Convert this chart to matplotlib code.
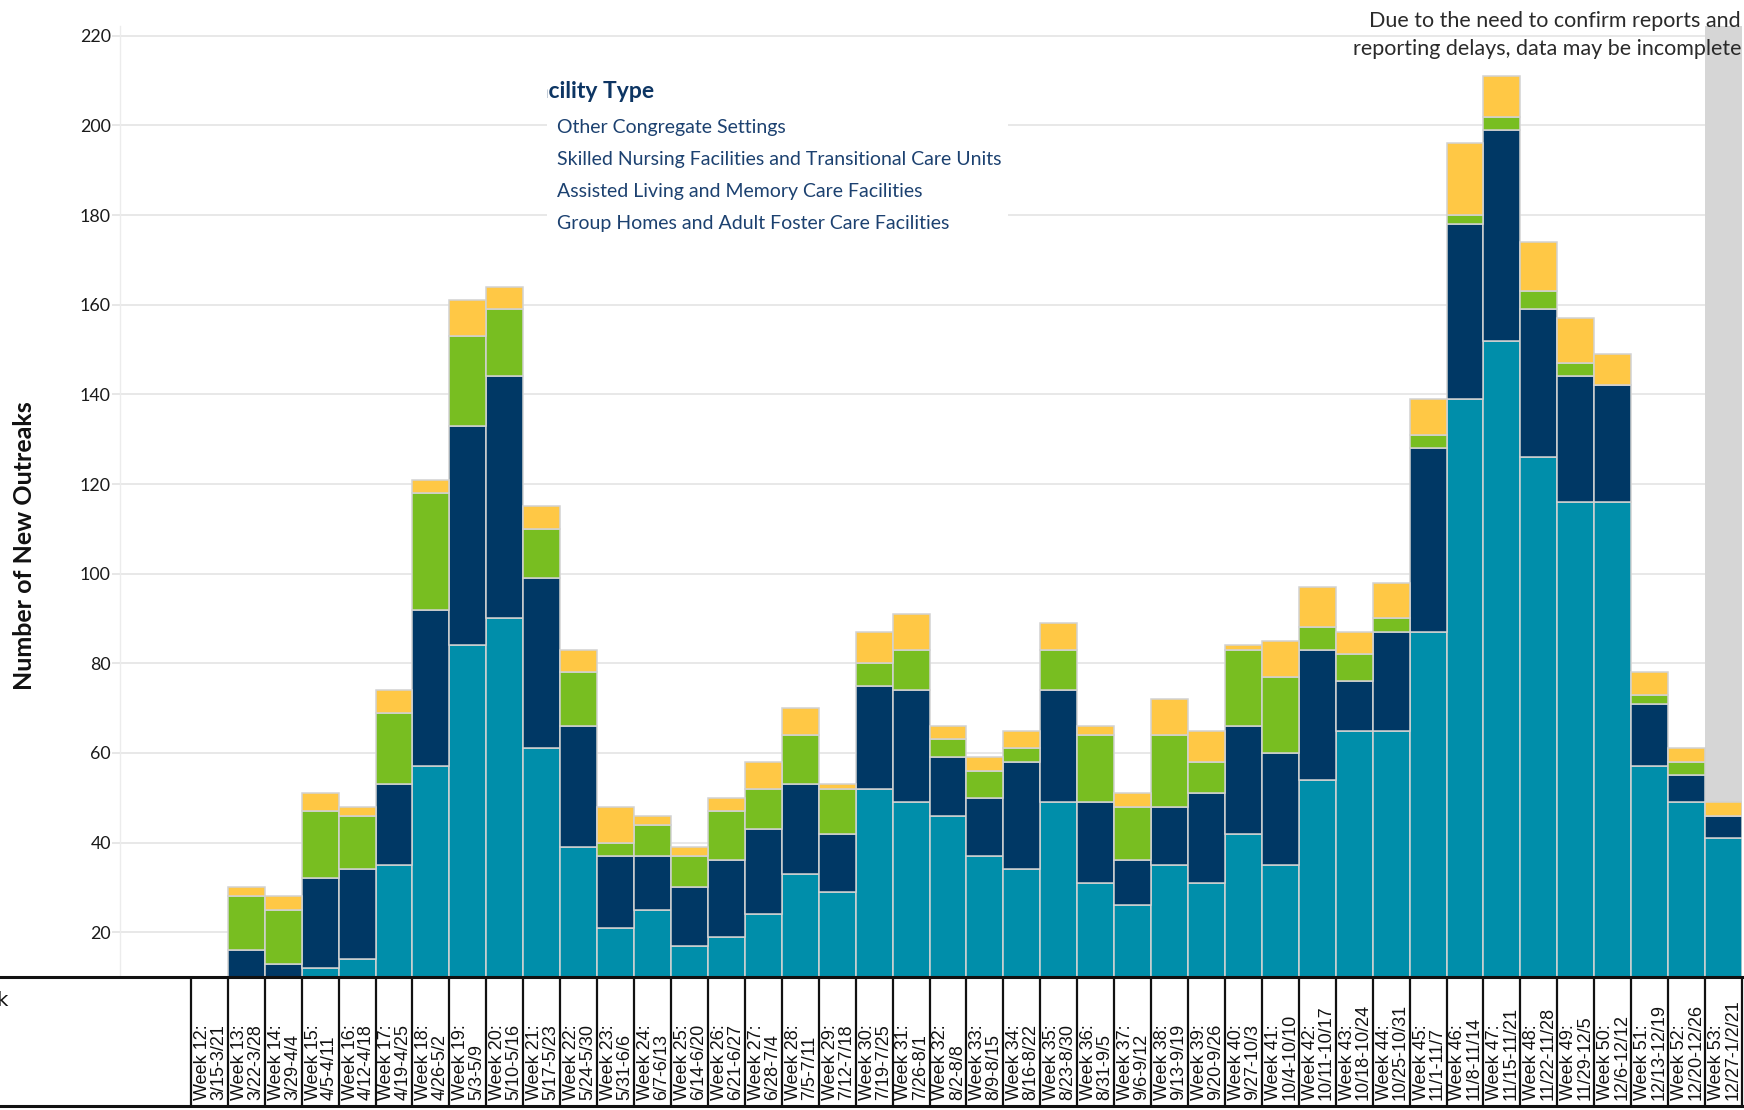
import numpy as np
import matplotlib
matplotlib.use("Agg")
import matplotlib.pyplot as plt
from matplotlib.lines import Line2D

# weekly new outbreaks by facility type (stack order: bottom -> top)
weeks = list(range(12, 54))
date_ranges = ["3/15-3/21", "3/22-3/28", "3/29-4/4", "4/5-4/11", "4/12-4/18", "4/19-4/25",
               "4/26-5/2", "5/3-5/9", "5/10-5/16", "5/17-5/23", "5/24-5/30", "5/31-6/6",
               "6/7-6/13", "6/14-6/20", "6/21-6/27", "6/28-7/4", "7/5-7/11", "7/12-7/18",
               "7/19-7/25", "7/26-8/1", "8/2-8/8", "8/9-8/15", "8/16-8/22", "8/23-8/30",
               "8/31-9/5", "9/6-9/12", "9/13-9/19", "9/20-9/26", "9/27-10/3", "10/4-10/10",
               "10/11-10/17", "10/18-10/24", "10/25-10/31", "11/1-11/7", "11/8-11/14",
               "11/15-11/21", "11/22-11/28", "11/29-12/5", "12/6-12/12", "12/13-12/19",
               "12/20-12/26", "12/27-1/2/21"]

group_homes = [0, 0, 0, 12, 14, 35, 57, 84, 90, 61, 39, 21, 25, 17, 19, 24, 33, 29, 52, 49,
               46, 37, 34, 49, 31, 26, 35, 31, 42, 35, 54, 65, 65, 87, 139, 152, 126, 116,
               116, 57, 49, 41]
assisted_living = [2, 16, 13, 20, 20, 18, 35, 49, 54, 38, 27, 16, 12, 13, 17, 19, 20, 13, 23,
                   25, 13, 13, 24, 25, 18, 10, 13, 20, 24, 25, 29, 11, 22, 41, 39, 47, 33,
                   28, 26, 14, 6, 5]
skilled_nursing = [3, 12, 12, 15, 12, 16, 26, 20, 15, 11, 12, 3, 7, 7, 11, 9, 11, 10, 5, 9,
                   4, 6, 3, 9, 15, 12, 16, 7, 17, 17, 5, 6, 3, 3, 2, 3, 4, 3, 0, 2, 3, 0]
other_congregate = [1, 2, 3, 4, 2, 5, 3, 8, 5, 5, 5, 8, 2, 2, 3, 6, 6, 1, 7, 8, 3, 3, 4, 6,
                    2, 3, 8, 7, 1, 8, 9, 5, 8, 8, 16, 9, 11, 10, 7, 5, 3, 3]

series_names = ["Group Homes and Adult Foster Care Facilities",
                "Assisted Living and Memory Care Facilities",
                "Skilled Nursing Facilities and Transitional Care Units",
                "Other Congregate Settings"]
series = [group_homes, assisted_living, skilled_nursing, other_congregate]
colors = ["#008EAA", "#003865", "#78BE21", "#FFC845"]

W, H = 1744, 1110


def fx(px):
    return px / W


def fy(py):
    return 1 - py / H


fig = plt.figure(figsize=(W / 100, H / 100), dpi=100)
ax = fig.add_axes([fx(120), fy(977), fx(1742) - fx(120), fy(26) - fy(977)])

x = np.arange(len(weeks))
bottom = np.zeros(len(weeks))
for vals, col in zip(series, colors):
    vals = np.array(vals, dtype=float)
    ax.bar(x, vals, bottom=bottom, width=1.0, color=col, edgecolor="#d2d2d2",
           linewidth=1.1, zorder=3)
    bottom += vals

# last week is still being filled in
ax.axvspan(x[-1] - 0.5, x[-1] + 0.5, color="#d6d6d6", zorder=1, lw=0)

ax.set_xlim(-2.42, x[-1] + 0.5)
ax.set_ylim(10, 222.2)
ax.set_xticks([])
ax.set_yticks(range(20, 221, 20))
ax.set_axisbelow(True)
ax.yaxis.grid(True, color="#e6e6e6", lw=1.3)
ax.tick_params(axis="y", length=5.8, width=1.2, color="#e3e3e3", pad=0.8,
               labelsize=12.8, labelcolor="#1a1a1a")
for lab in ax.get_yticklabels():
    lab.set_family("Lato")
for s in ["top", "right", "bottom"]:
    ax.spines[s].set_visible(False)
ax.spines["left"].set_color("#ececec")
ax.spines["left"].set_linewidth(1.0)

fig.text(fx(25), fy(546), "Number of New Outreaks", rotation=90, ha="center", va="center",
         fontsize=18, fontweight="bold", family="Lato", color="#111111")

fig.text(fx(1741), fy(35), "Due to the need to confirm reports and\nreporting delays, data may be incomplete",
         ha="right", va="center", multialignment="right", fontsize=15.5, fontweight="normal",
         family="Lato", color="#2a2a2a", linespacing=1.5, zorder=5)

# legend panel
leg = fig.add_axes([fx(547), fy(238), fx(1008) - fx(547), fy(55) - fy(238)])
leg.set_facecolor("white")
leg.set_xlim(547, 1008)
leg.set_ylim(238, 55)
leg.set_xticks([])
leg.set_yticks([])
for s in leg.spines.values():
    s.set_visible(False)

title_kw = dict(ha="left", va="center", fontsize=16.5, fontweight="bold", family="Lato",
                color="#0d3563", clip_on=True)
title = leg.text(0, 91, "Facility Type", **title_kw)
tail = leg.text(0, 91, "cility Type", **title_kw)
renderer = fig.canvas.get_renderer()
prefix_w = title.get_window_extent(renderer).width - tail.get_window_extent(renderer).width
tail.remove()
# the start of the title sits under the panel's left edge
title.set_x(548 - prefix_w)

for k, name in enumerate(series_names[::-1]):
    leg.text(557, 127 + 32 * k, name, ha="left", va="center", fontsize=14,
             family="Lato", color="#1c4170", clip_on=True)

# week table under the bars
tab = fig.add_axes([fx(120), fy(1106), fx(1742) - fx(120), fy(977) - fy(1106)])
tab.set_xlim(ax.get_xlim())
tab.set_ylim(0, 1)
tab.axis("off")
tab.vlines(np.arange(len(weeks) + 1) - 0.5, 0, 1, color="#111111", lw=1.6, clip_on=False)
for i, (w, d) in enumerate(zip(weeks, date_ranges)):
    tab.text(i + 0.03, 0.05, f"Week {w}:\n{d}", rotation=90, rotation_mode="anchor",
             ha="left", va="center", multialignment="left", fontsize=13,
             family="Liberation Sans", linespacing=0.95, color="#111111")

for py in (977, 1106):
    fig.add_artist(Line2D([0, 1], [fy(py), fy(py)], transform=fig.transFigure,
                          color="#111111", lw=2.2))
fig.text(fx(9), fy(1000), "Week", ha="right", va="center", fontsize=14,
         family="DejaVu Sans", color="#111111")

fig.savefig("out.png", dpi=100)
